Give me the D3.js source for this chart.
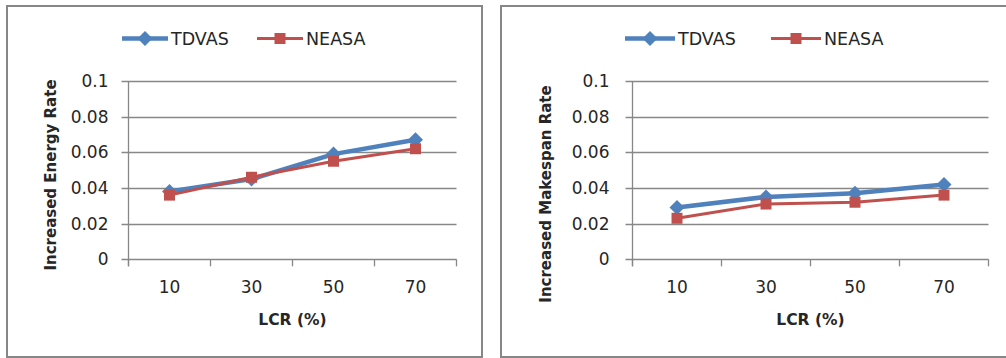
<!DOCTYPE html>
<html>
<head>
<meta charset="utf-8">
<script src="https://cdn.jsdelivr.net/npm/d3@7"></script>
<style>
  html, body { margin: 0; padding: 0; background: #fff; }
  svg { display: block; font-family: "DejaVu Sans", sans-serif; }
</style>
</head>
<body>
<svg id="chart" width="1006" height="358"></svg>
<script>
// LCR levels on the x axis
const categories = ["10", "30", "50", "70"];
const seriesNames = ["TDVAS", "NEASA"];

// Increased energy rate per LCR level
const energyTDVAS = [0.038, 0.045, 0.059, 0.067];
const energyNEASA = [0.036, 0.046, 0.055, 0.062];

// Increased makespan rate per LCR level
const makespanTDVAS = [0.029, 0.035, 0.037, 0.042];
const makespanNEASA = [0.023, 0.031, 0.032, 0.036];

const yTicks = [0, 0.02, 0.04, 0.06, 0.08, 0.1];
const yTickLabels = ["0", "0.02", "0.04", "0.06", "0.08", "0.1"];

const COLORS = { TDVAS: "#4F81BD", NEASA: "#C0504D" };
const GRID = "#878787";
const TEXT = "#262626";

const svg = d3.select("#chart");

function diamondPath(r) {
  return `M0,${-r}L${r},0L0,${r}L${-r},0Z`;
}
function squarePath(h) {
  return `M${-h},${-h}H${h}V${h}H${-h}Z`;
}

function drawPanel(cfg) {
  const g = svg.append("g");

  // frame
  g.append("rect")
    .attr("x", cfg.frame[0]).attr("y", cfg.frame[1])
    .attr("width", cfg.frame[2]).attr("height", cfg.frame[3])
    .attr("fill", "#fff").attr("stroke", GRID).attr("stroke-width", 2);

  const x = d3.scaleBand().domain(categories).range([cfg.x0, cfg.x1]).padding(0);
  const y = d3.scaleLinear().domain([0, 0.1]).range([259.3, 81]);

  // horizontal gridlines with short left ticks
  g.selectAll(".grid").data(yTicks).enter().append("line")
    .attr("x1", cfg.x0 - 7).attr("x2", cfg.x1)
    .attr("y1", d => Math.round(y(d)) + 0.5).attr("y2", d => Math.round(y(d)) + 0.5)
    .attr("stroke", GRID).attr("stroke-width", 1.3);

  // vertical axis line
  g.append("line")
    .attr("x1", cfg.x0).attr("x2", cfg.x0)
    .attr("y1", y(0.1)).attr("y2", y(0) + 7)
    .attr("stroke", GRID).attr("stroke-width", 1.3);

  // category boundary ticks
  const bounds = categories.map(c => x(c)).concat([cfg.x1]);
  g.selectAll(".xtick").data(bounds).enter().append("line")
    .attr("x1", d => d).attr("x2", d => d)
    .attr("y1", y(0)).attr("y2", y(0) + 7)
    .attr("stroke", GRID).attr("stroke-width", 1.3);

  // y tick labels
  g.selectAll(".ylab").data(yTicks).enter().append("text")
    .attr("x", cfg.x0 - cfg.labelGap).attr("y", d => y(d))
    .attr("text-anchor", "end").attr("dominant-baseline", "central")
    .attr("font-size", 17).attr("fill", TEXT)
    .text((d, i) => yTickLabels[i]);

  // x tick labels
  g.selectAll(".xlab").data(categories).enter().append("text")
    .attr("x", d => x(d) + x.bandwidth() / 2).attr("y", 287)
    .attr("text-anchor", "middle").attr("dominant-baseline", "central")
    .attr("font-size", 17).attr("fill", TEXT)
    .text(d => d);

  // axis titles
  g.append("text")
    .attr("x", (cfg.x0 + cfg.x1) / 2).attr("y", 320)
    .attr("text-anchor", "middle").attr("dominant-baseline", "central")
    .attr("font-size", 15.5).attr("font-weight", "bold").attr("fill", TEXT)
    .text("LCR (%)");

  g.append("text")
    .attr("transform", `translate(${cfg.yTitleX},${cfg.yTitleY}) rotate(-90)`)
    .attr("text-anchor", "middle").attr("dominant-baseline", "central")
    .attr("font-size", 15).attr("font-weight", "bold").attr("fill", TEXT)
    .text(cfg.yTitle);

  const cx = c => x(c) + x.bandwidth() / 2;
  const line = d3.line().x((d, i) => cx(categories[i])).y(d => y(d));

  function drawSeries(name, values) {
    const color = COLORS[name];
    g.append("path").datum(values)
      .attr("d", line).attr("fill", "none")
      .attr("stroke", color).attr("stroke-width", name === "TDVAS" ? 4.5 : 3)
      .attr("stroke-linejoin", "round");
    g.selectAll(".m" + name).data(values).enter().append("path")
      .attr("transform", (d, i) => `translate(${cx(categories[i])},${y(d)})`)
      .attr("d", name === "TDVAS" ? diamondPath(7.5) : squarePath(5.5))
      .attr("fill", color);
  }
  drawSeries("TDVAS", cfg.tdvas);
  drawSeries("NEASA", cfg.neasa);

  // legend
  const ly = 38.5;
  cfg.legend.forEach((item, i) => {
    const name = seriesNames[i];
    const color = COLORS[name];
    g.append("line")
      .attr("x1", item[0]).attr("x2", item[1]).attr("y1", ly).attr("y2", ly)
      .attr("stroke", color).attr("stroke-width", name === "TDVAS" ? 4.5 : 3);
    g.append("path")
      .attr("transform", `translate(${(item[0] + item[1]) / 2},${ly})`)
      .attr("d", name === "TDVAS" ? diamondPath(7.5) : squarePath(5.5))
      .attr("fill", color);
    g.append("text")
      .attr("x", item[2]).attr("y", ly)
      .attr("dominant-baseline", "central")
      .attr("font-size", 17.5).attr("fill", TEXT)
      .text(name);
  });
}

drawPanel({
  frame: [7, 6, 475, 351],
  x0: 128.5, x1: 456.5, labelGap: 20,
  yTitle: "Increased Energy Rate", yTitleX: 51, yTitleY: 175,
  tdvas: energyTDVAS, neasa: energyNEASA,
  legend: [[122, 168, 171], [257, 303, 306]]
});

drawPanel({
  frame: [501, 6, 520, 351],
  x0: 632.5, x1: 988.5, labelGap: 23,
  yTitle: "Increased Makespan Rate", yTitleX: 546, yTitleY: 194,
  tdvas: makespanTDVAS, neasa: makespanNEASA,
  legend: [[625, 675, 678], [771, 821, 824]]
});
</script>
</body>
</html>
